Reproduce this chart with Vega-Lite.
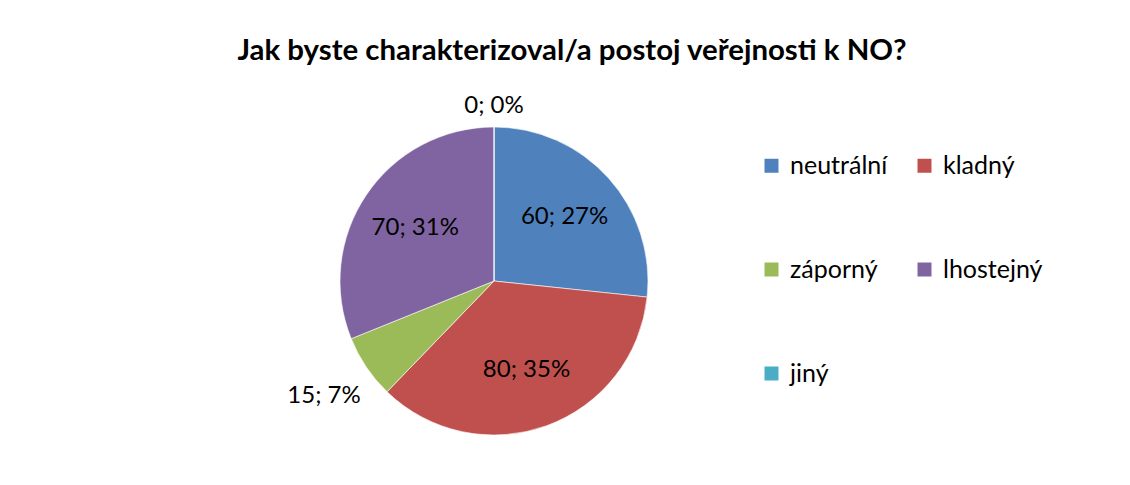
{
  "$schema": "https://vega.github.io/schema/vega-lite/v6.json",
  "autosize": "none",
  "width": 308,
  "height": 308,
  "padding": {"left": 340, "top": 127, "right": 482, "bottom": 50},
  "background": "white",
  "title": {
    "text": "Jak byste charakterizoval/a postoj veřejnosti k NO?",
    "font": "Lato",
    "fontSize": 29.4,
    "fontWeight": "bold",
    "color": "#000000",
    "anchor": "middle",
    "frame": "group",
    "dx": 78,
    "dy": 32,
    "offset": 30
  },
  "data": {
    "values": [
      {"kategorie": "neutrální", "value": 60, "pct": 27, "idx": 1},
      {"kategorie": "kladný", "value": 80, "pct": 35, "idx": 2},
      {"kategorie": "záporný", "value": 15, "pct": 7, "idx": 3},
      {"kategorie": "lhostejný", "value": 70, "pct": 31, "idx": 4},
      {"kategorie": "jiný", "value": 0, "pct": 0, "idx": 5}
    ]
  },
  "transform": [
    {"calculate": "datum.value + '; ' + datum.pct + '%'", "as": "label"}
  ],
  "encoding": {
    "theta": {"field": "value", "type": "quantitative", "stack": true},
    "order": {"field": "idx", "type": "quantitative"}
  },
  "layer": [
    {
      "mark": {"type": "arc", "outerRadius": 154, "stroke": "#ffffff", "strokeWidth": 0.6},
      "encoding": {
        "color": {
          "field": "kategorie",
          "type": "nominal",
          "sort": ["neutrální", "kladný", "záporný", "lhostejný", "jiný"],
          "scale": {
            "domain": ["neutrální", "kladný", "záporný", "lhostejný", "jiný"],
            "range": ["#4F81BD", "#C0504D", "#9BBB59", "#8064A2", "#4BACC6"]
          },
          "legend": {
            "title": null,
            "orient": "none",
            "direction": "horizontal",
            "legendX": 419,
            "legendY": 26,
            "columns": 2,
            "symbolType": "square",
            "symbolSize": 196,
            "symbolStrokeWidth": 0,
            "symbolOpacity": 1,
            "labelFont": "Lato",
            "labelFontSize": 25,
            "labelColor": "#000000",
            "labelOffset": 6,
            "rowPadding": 78,
            "columnPadding": 24,
            "labelLimit": 300
          }
        }
      }
    },
    {
      "mark": {"type": "text", "radius": 95, "font": "Lato", "fontSize": 24, "color": "#000000", "align": "center", "baseline": "middle"},
      "encoding": {
        "text": {
          "condition": {"test": "datum.kategorie == 'neutrální' || datum.kategorie == 'kladný' || datum.kategorie == 'lhostejný'", "field": "label"},
          "value": ""
        }
      }
    },
    {
      "mark": {"type": "text", "radius": 205, "font": "Lato", "fontSize": 24, "color": "#000000", "align": "center", "baseline": "middle"},
      "encoding": {
        "text": {
          "condition": {"test": "datum.kategorie == 'záporný'", "field": "label"},
          "value": ""
        }
      }
    },
    {
      "mark": {"type": "text", "radius": 175, "font": "Lato", "fontSize": 24, "color": "#000000", "align": "center", "baseline": "middle"},
      "encoding": {
        "text": {
          "condition": {"test": "datum.kategorie == 'jiný'", "field": "label"},
          "value": ""
        }
      }
    }
  ],
  "config": {"view": {"stroke": null}}
}
